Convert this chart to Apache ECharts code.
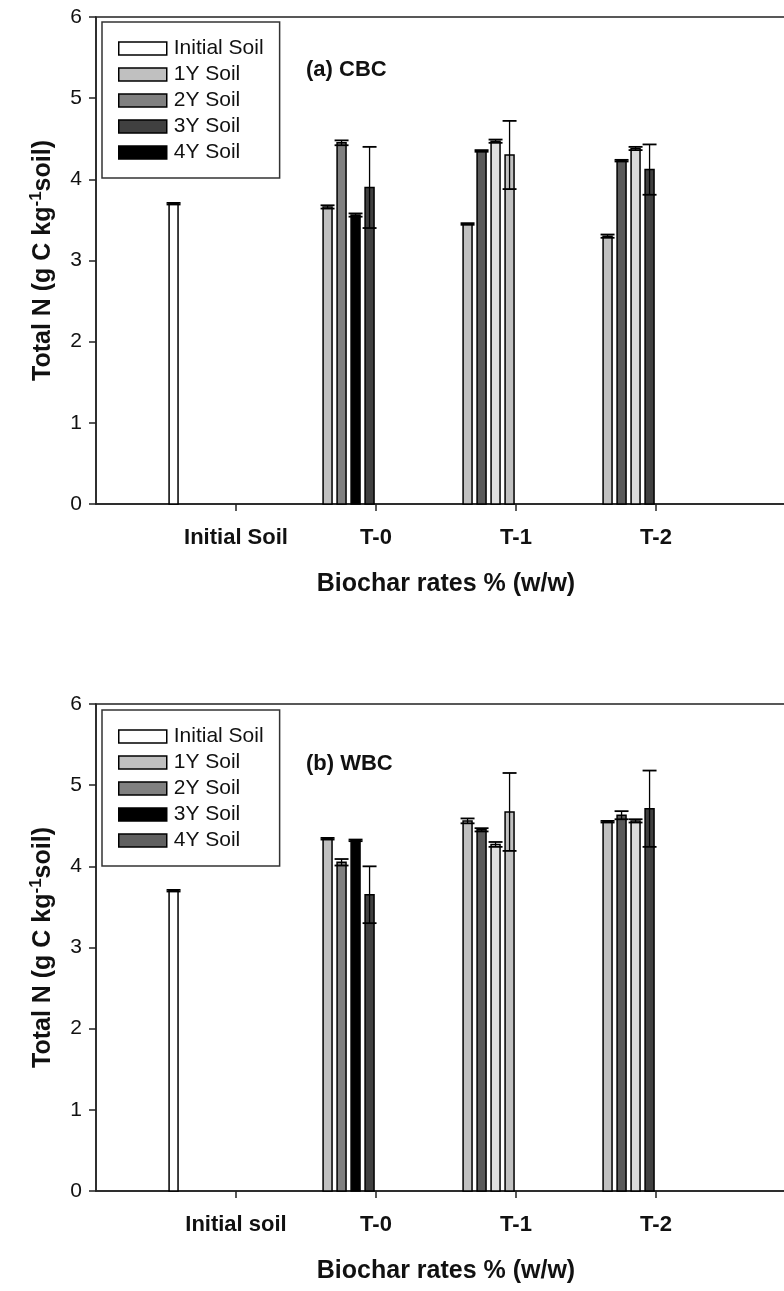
<!DOCTYPE html>
<html>
<head>
<meta charset="utf-8">
<script src="https://cdn.jsdelivr.net/npm/echarts@6/dist/echarts.min.js"></script>
<style>
  html, body { margin: 0; padding: 0; background: #fff; }
  #top { position: absolute; left: 0; top: 0; width: 784px; height: 650px; }
  #bottom { position: absolute; left: 0; top: 650px; width: 784px; height: 641px; }
</style>
</head>
<body>
<div id="top"></div>
<div id="bottom"></div>
<script>
// Soil total N, g C kg-1 soil; groups: Initial soil, T-0, T-1, T-2
const seriesNames = ['Initial Soil', '1Y Soil', '2Y Soil', '3Y Soil', '4Y Soil'];
const catsCBC = ['Initial Soil', 'T-0', 'T-1', 'T-2'];
const catsWBC = ['Initial soil', 'T-0', 'T-1', 'T-2'];
const yTicks = [0, 1, 2, 3, 4, 5, 6];

// (a) CBC — means and error half-widths (values for T-0, T-1, T-2)
const initialCBC = [3.70];
const initialErrCBC = [0.01];
const y1CBC = [3.66, 3.45, 3.30];
const y1ErrCBC = [0.02, 0.01, 0.02];
const y2CBC = [4.45, 4.35, 4.23];
const y2ErrCBC = [0.03, 0.01, 0.01];
const y3CBC = [3.56, 4.47, 4.38];
const y3ErrCBC = [0.02, 0.02, 0.02];
const y4CBC = [3.90, 4.30, 4.12];
const y4ErrCBC = [0.50, 0.42, 0.31];

// (b) WBC
const initialWBC = [3.70];
const initialErrWBC = [0.01];
const y1WBC = [4.34, 4.56, 4.55];
const y1ErrWBC = [0.01, 0.03, 0.01];
const y2WBC = [4.05, 4.45, 4.63];
const y2ErrWBC = [0.04, 0.02, 0.05];
const y3WBC = [4.32, 4.27, 4.56];
const y3ErrWBC = [0.01, 0.03, 0.02];
const y4WBC = [3.65, 4.67, 4.71];
const y4ErrWBC = [0.35, 0.48, 0.47];

// Fill shades: legend swatches and the shade used for each bar (T-0, T-1, T-2)
const legendFillsCBC = ['#ffffff', '#c0c0c0', '#808080', '#404040', '#000000'];
const legendFillsWBC = ['#ffffff', '#c0c0c0', '#808080', '#000000', '#606060'];
const barFills = [
  ['#ffffff'],
  ['#c0c0c0', '#c0c0c0', '#c0c0c0'],
  ['#808080', '#5a5a5a', '#5a5a5a'],
  ['#000000', '#e0e0e0', '#dcdcdc'],
  ['#404040', '#c0c0c0', '#404040']
];

const FONT = '"Liberation Sans", Arial, sans-serif';
const INK = '#111';

// bar slot layout inside a group, in x-axis units (one unit per group)
const SLOT_PITCH = 0.1;
const LAST_SLOT_OFFSET = -0.046;
const BAR_W = 0.064;

function makeRender(fills) {
  return function (params, api) {
    const g = api.value(0), slot = api.value(1), v = api.value(2), e = api.value(3);
    const unit = api.size([1, 0])[0];
    const base = api.coord([g, 0]);
    const cx = base[0] + (LAST_SLOT_OFFSET - (4 - slot) * SLOT_PITCH) * unit;
    const half = BAR_W * unit / 2;
    const top = api.coord([g, v])[1];
    const hi = api.coord([g, v + e])[1];
    const lo = api.coord([g, v - e])[1];
    const cap = half + 2.5;
    return {
      type: 'group',
      children: [
        { type: 'rect', shape: { x: cx - half, y: top, width: 2 * half, height: base[1] - top },
          style: { fill: fills[params.dataIndex], stroke: '#000', lineWidth: 1.5 } },
        { type: 'line', shape: { x1: cx, y1: lo, x2: cx, y2: hi },
          style: { stroke: '#000', lineWidth: 1.3 } },
        { type: 'line', shape: { x1: cx - cap, y1: hi, x2: cx + cap, y2: hi },
          style: { stroke: '#000', lineWidth: 1.8 } },
        { type: 'line', shape: { x1: cx - cap, y1: lo, x2: cx + cap, y2: lo },
          style: { stroke: '#000', lineWidth: 1.8 } }
      ]
    };
  };
}

function buildOption(cats, panelLabel, legendFills, values, errors, gridTop, legendTop, labelTop) {
  const series = seriesNames.map(function (name, k) {
    const groups = k === 0 ? [0] : [1, 2, 3];
    const data = groups.map(function (g, i) { return [g, k, values[k][i], errors[k][i]]; });
    return {
      type: 'custom',
      name: name,
      itemStyle: { color: legendFills[k] },
      encode: { x: 0, y: 2 },
      renderItem: makeRender(barFills[k]),
      data: data
    };
  });
  return {
    animation: false,
    grid: { left: 96, top: gridTop, width: 700, height: 487, show: true,
            outerBoundsMode: 'none', containLabel: false,
            borderColor: '#222', borderWidth: 1.5, backgroundColor: 'transparent' },
    legend: {
      orient: 'vertical', left: 102, top: legendTop,
      data: seriesNames,
      icon: 'rect', itemWidth: 48, itemHeight: 13, itemGap: 5,
      padding: [16, 16, 15, 16],
      borderColor: '#333', borderWidth: 1.5, backgroundColor: '#fff',
      itemStyle: { borderColor: '#000', borderWidth: 1.5 },
      textStyle: { fontFamily: FONT, fontSize: 21, color: INK, padding: [0, 0, 0, 2] },
      selectedMode: false
    },
    xAxis: {
      type: 'value', min: -1, max: 4, interval: 1,
      axisLine: { show: true, onZero: false, lineStyle: { color: '#222', width: 1.5 } },
      axisTick: { show: true, length: 7, customValues: [0, 1, 2, 3], lineStyle: { color: '#222', width: 1.5 } },
      axisLabel: { customValues: [0, 1, 2, 3], margin: 23,
                   formatter: function (v) { return cats[Math.round(v)]; },
                   fontFamily: FONT, fontSize: 22, fontWeight: 'bold', color: INK },
      splitLine: { show: false },
      name: 'Biochar rates % (w/w)', nameLocation: 'middle', nameGap: 68,
      nameTextStyle: { fontFamily: FONT, fontSize: 25, fontWeight: 'bold', color: INK }
    },
    yAxis: {
      type: 'value', min: yTicks[0], max: yTicks[yTicks.length - 1], interval: 1,
      axisLine: { show: true, onZero: false, lineStyle: { color: '#222', width: 1.5 } },
      axisTick: { show: true, length: 7, lineStyle: { color: '#222', width: 1.5 } },
      axisLabel: { margin: 14, fontFamily: FONT, fontSize: 21, color: INK },
      splitLine: { show: false },
      name: '{n|Total N (g C kg}{s|-1}{n|soil)}', nameLocation: 'middle', nameGap: 40,
      nameTextStyle: {
        rich: {
          n: { fontFamily: FONT, fontSize: 25, fontWeight: 'bold', color: INK, lineHeight: 28, verticalAlign: 'bottom' },
          s: { fontFamily: FONT, fontSize: 17, fontWeight: 'bold', color: INK, lineHeight: 18, verticalAlign: 'top' }
        }
      }
    },
    graphic: [{
      type: 'text', left: 306, top: labelTop,
      style: { text: panelLabel, font: 'bold 22px ' + FONT, fill: INK }
    }],
    series: series
  };
}

const chartA = echarts.init(document.getElementById('top'));
chartA.setOption(buildOption(
  catsCBC, '(a) CBC', legendFillsCBC,
  [initialCBC, y1CBC, y2CBC, y3CBC, y4CBC],
  [initialErrCBC, y1ErrCBC, y2ErrCBC, y3ErrCBC, y4ErrCBC],
  17, 22, 59
));

const chartB = echarts.init(document.getElementById('bottom'));
chartB.setOption(buildOption(
  catsWBC, '(b) WBC', legendFillsWBC,
  [initialWBC, y1WBC, y2WBC, y3WBC, y4WBC],
  [initialErrWBC, y1ErrWBC, y2ErrWBC, y3ErrWBC, y4ErrWBC],
  54, 60, 103
));
</script>
</body>
</html>
